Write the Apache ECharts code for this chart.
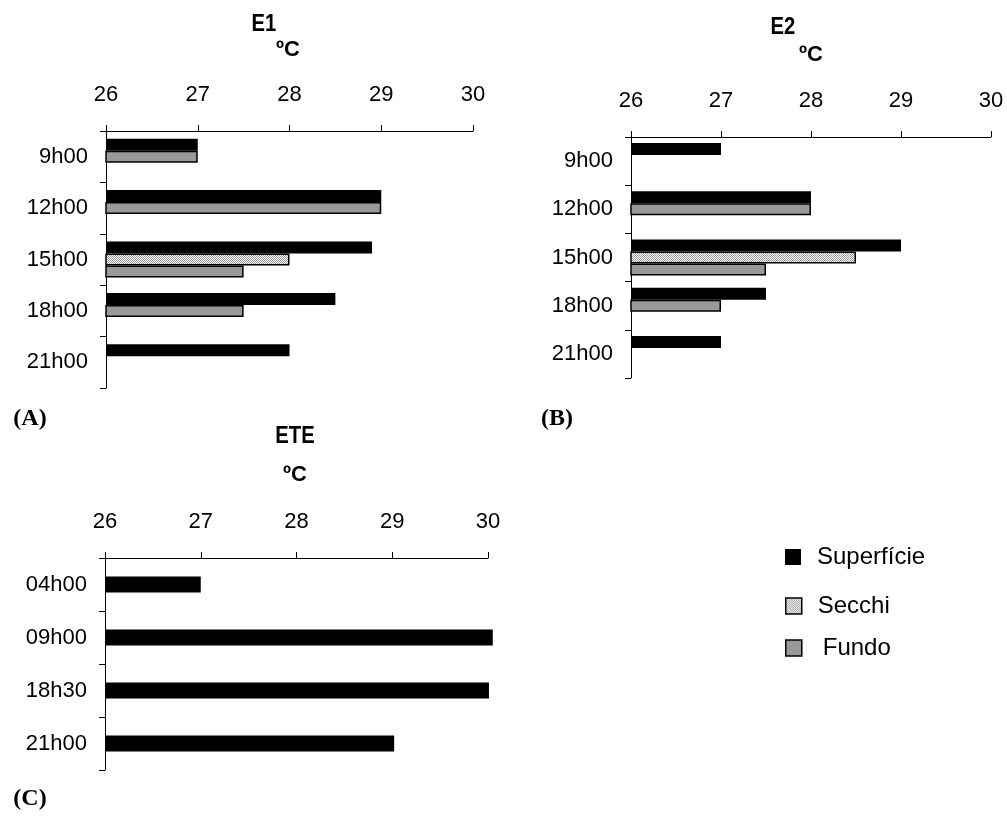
<!DOCTYPE html>
<html>
<head>
<meta charset="utf-8">
<script src="https://cdn.jsdelivr.net/npm/echarts@6/dist/echarts.min.js"></script>
<style>
  html, body { margin: 0; padding: 0; background: #fff; }
  #chart { width: 1007px; height: 818px; }
</style>
</head>
<body>
<div id="chart"></div>
<script>
// ---- Data ----
const categoriesAB = ['9h00', '12h00', '15h00', '18h00', '21h00'];
const e1Superficie = [27, 29, 28.9, 28.5, 28];
const e1Secchi     = [null, null, 28, null, null];
const e1Fundo      = [27, 29, 27.5, 27.5, null];
const e2Superficie = [27, 28, 29, 27.5, 27];
const e2Secchi     = [null, null, 28.5, null, null];
const e2Fundo      = [null, 28, 27.5, 27, null];
const categoriesC  = ['04h00', '09h00', '18h30', '21h00'];
const eteSuperficie = [27, 30.05, 30.01, 29.02];
const tempMin = 26, tempMax = 30, tempStep = 1;
const seriesNames = ['Superfície', 'Secchi', 'Fundo'];

// ---- Styles ----
const FONT = '"Liberation Sans", Arial, Helvetica, sans-serif';
const GRAY = '#999999';
const pat = document.createElement('canvas');
pat.width = 2; pat.height = 2;
(function () {
  const c = pat.getContext('2d');
  c.fillStyle = '#ffffff'; c.fillRect(0, 0, 2, 2);
  c.fillStyle = '#9a9a9a'; c.fillRect(0, 0, 1, 1); c.fillRect(1, 1, 1, 1);
})();
const SECCHI_FILL = { image: pat, repeat: 'repeat' };

// second slot: Secchi if measured, otherwise the bottom value drawn in its place
function slot2(secchi, fundo) {
  return secchi.map((s, i) => s != null ? s :
    (fundo[i] != null ? { value: fundo[i], itemStyle: { color: GRAY } } : null));
}
function slot3(secchi, fundo) {
  return secchi.map((s, i) => s != null ? fundo[i] : null);
}

const grids = [
  { left: 106, top: 131, width: 367, height: 257 },
  { left: 631, top: 137, width: 360, height: 241 },
  { left: 105, top: 558, width: 383, height: 212 }
];

function xAx(i) {
  return {
    type: 'value', gridIndex: i, position: 'top',
    min: tempMin, max: tempMax, interval: tempStep,
    splitLine: { show: false },
    axisLine: { show: true, lineStyle: { color: '#000', width: 1 } },
    axisTick: { show: true, length: 6, lineStyle: { color: '#000' } },
    axisLabel: { margin: 25, fontSize: 22, color: '#000', fontFamily: FONT }
  };
}
function yAx(i, cats) {
  return {
    type: 'category', gridIndex: i, inverse: true, data: cats,
    axisLine: { show: true, lineStyle: { color: '#000', width: 1 } },
    axisTick: { show: true, length: 6, lineStyle: { color: '#000' } },
    axisLabel: { margin: 18, fontSize: 22, color: '#000', fontFamily: FONT }
  };
}
function threeSeries(i, sup, sec, fun) {
  return [
    { type: 'bar', name: seriesNames[0], xAxisIndex: i, yAxisIndex: i, data: sup,
      barWidth: 12, barGap: '0%', itemStyle: { color: '#000' } },
    { type: 'bar', name: seriesNames[1], xAxisIndex: i, yAxisIndex: i, data: slot2(sec, fun),
      barWidth: 12, barGap: '0%', itemStyle: { color: SECCHI_FILL, borderColor: '#000', borderWidth: 1.5 } },
    { type: 'bar', name: seriesNames[2], xAxisIndex: i, yAxisIndex: i, data: slot3(sec, fun),
      barWidth: 12, barGap: '0%', itemStyle: { color: GRAY, borderColor: '#000', borderWidth: 1.5 } }
  ];
}

const series = []
  .concat(threeSeries(0, e1Superficie, e1Secchi, e1Fundo))
  .concat(threeSeries(1, e2Superficie, e2Secchi, e2Fundo))
  .concat([
    { type: 'bar', name: 'base', xAxisIndex: 2, yAxisIndex: 2, stack: 'c', clip: false,
      data: eteSuperficie.map(() => tempMin), barWidth: 16,
      itemStyle: { color: 'rgba(0,0,0,0)' }, silent: true },
    { type: 'bar', name: seriesNames[0], xAxisIndex: 2, yAxisIndex: 2, stack: 'c', clip: false,
      data: eteSuperficie.map(v => +(v - tempMin).toFixed(3)), barWidth: 16,
      itemStyle: { color: '#000' } }
  ]);

function legendAt(name, top, padLeft, bordered) {
  return {
    data: [name], left: 785, top: top, orient: 'vertical', padding: 0,
    icon: 'rect', itemWidth: 16, itemHeight: 16, selectedMode: false,
    itemStyle: bordered ? { borderColor: '#000', borderWidth: 1.5 } : { borderWidth: 0 },
    textStyle: { fontSize: 24, color: '#000', fontFamily: FONT, padding: [0, 0, 0, padLeft] }
  };
}

function txt(text, x, y, size, opts) {
  opts = opts || {};
  return {
    type: 'text', x: x, y: y, scaleX: opts.scaleX || 1, silent: true,
    style: {
      text: text, fill: '#000', align: 'center', verticalAlign: 'middle',
      fontSize: size, fontWeight: 'bold', fontFamily: opts.serif ? '"Liberation Serif", "Times New Roman", serif' : FONT
    }
  };
}

const option = {
  backgroundColor: '#fff',
  animation: false,
  grid: grids,
  xAxis: [xAx(0), xAx(1), xAx(2)],
  yAxis: [yAx(0, categoriesAB), yAx(1, categoriesAB), yAx(2, categoriesC)],
  legend: [
    legendAt('Superfície', 545, 11, false),
    legendAt('Secchi', 594, 11, true),
    legendAt('Fundo', 636, 16, true)
  ],
  series: series,
  graphic: [
    txt('E1', 264, 25, 23, { scaleX: 0.88 }),
    txt('ºC', 288, 50, 22),
    txt('E2', 783, 28, 23, { scaleX: 0.88 }),
    txt('ºC', 811, 55, 22),
    txt('ETE', 295, 437, 23, { scaleX: 0.88 }),
    txt('ºC', 295, 475, 22),
    txt('(A)', 30, 419, 24, { serif: true }),
    txt('(B)', 557, 419, 24, { serif: true }),
    txt('(C)', 30, 799, 24, { serif: true })
  ]
};

const chart = echarts.init(document.getElementById('chart'), null, { renderer: 'canvas' });
chart.setOption(option);
</script>
</body>
</html>
